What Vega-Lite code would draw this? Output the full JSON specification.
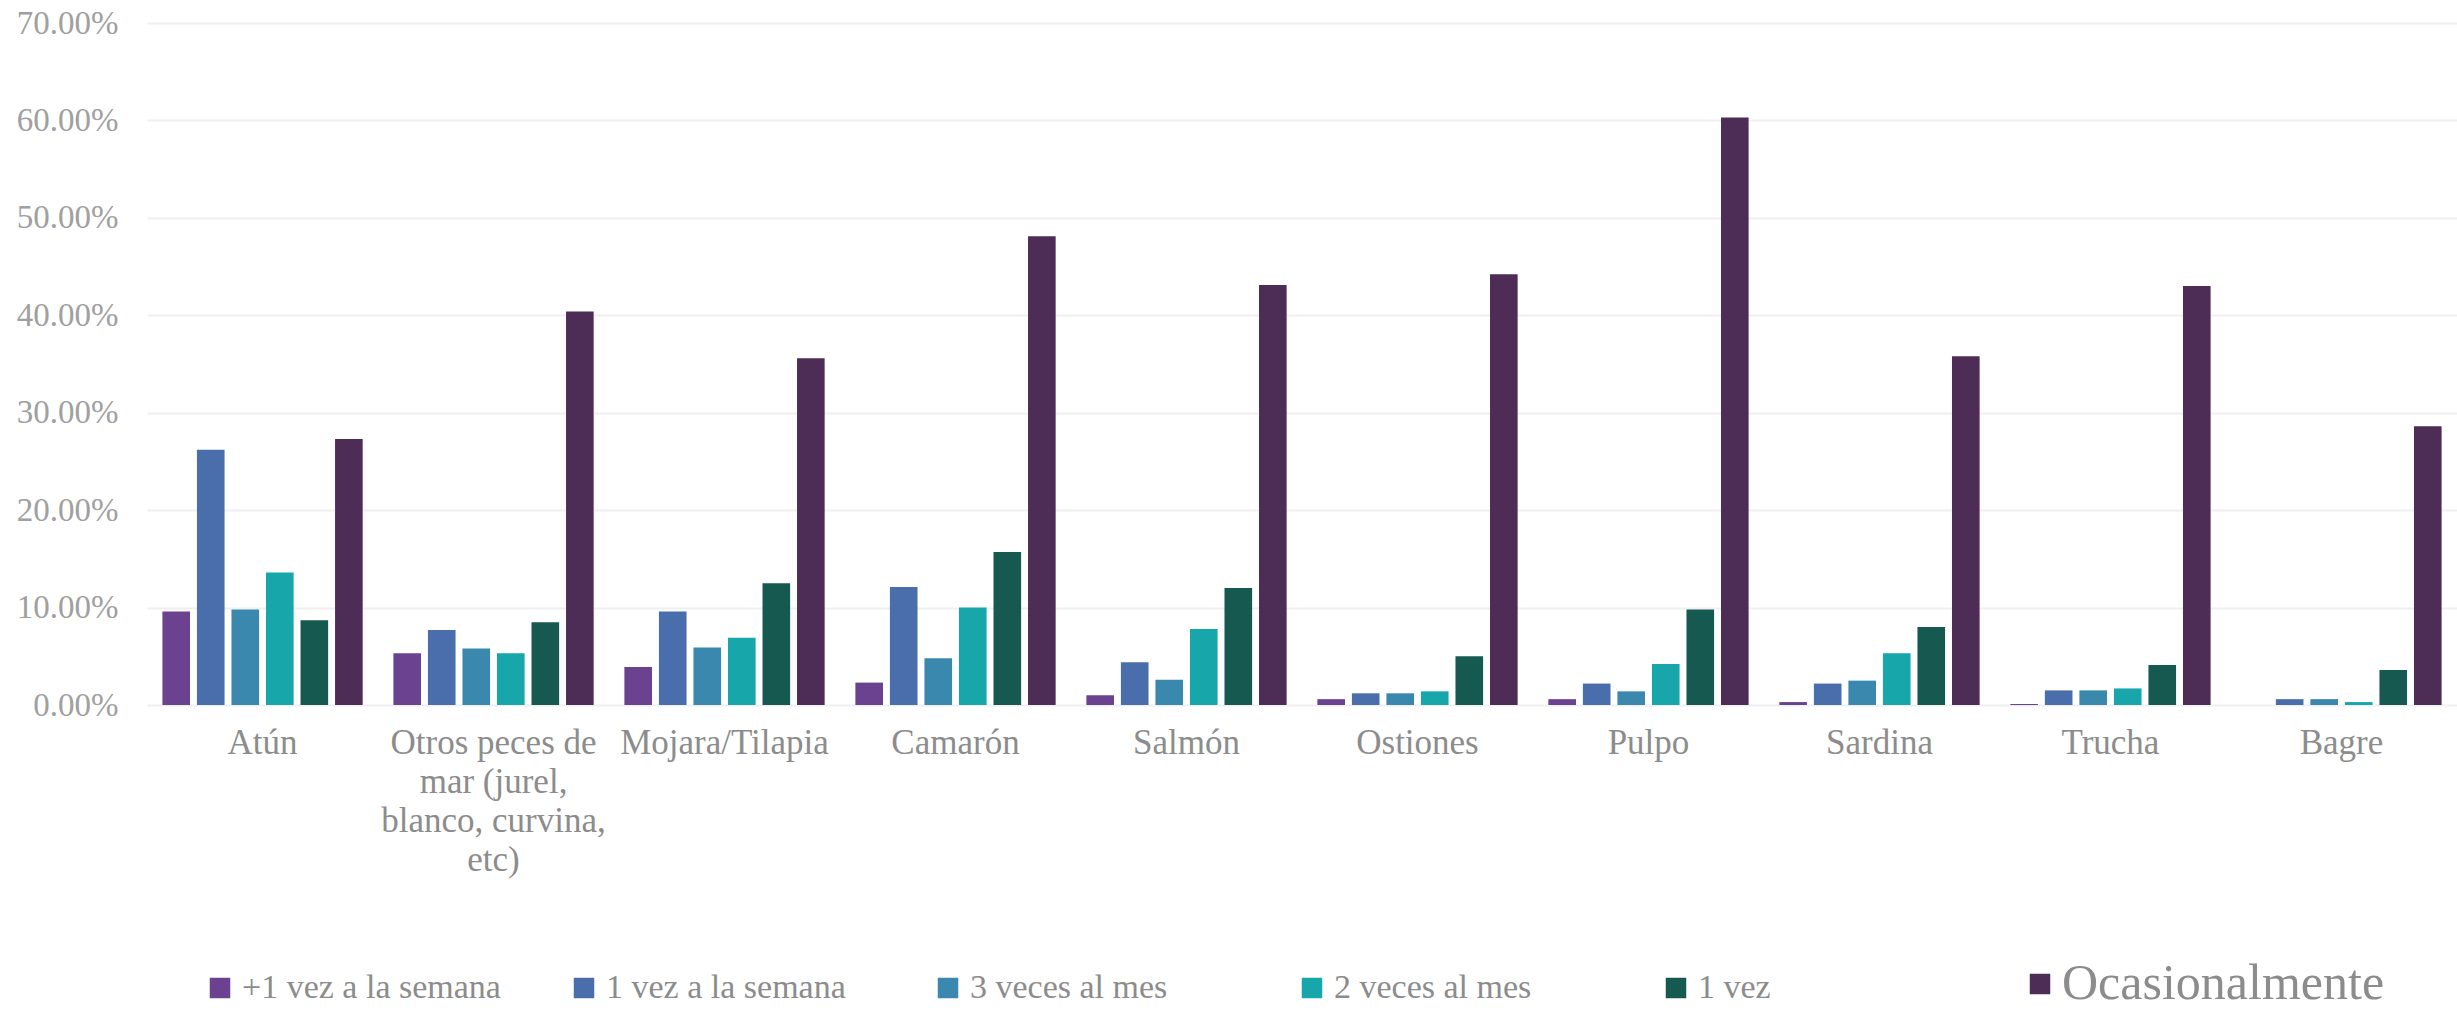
{
  "$schema": "https://vega.github.io/schema/vega-lite/v6.json",
  "width": 2310,
  "height": 682,
  "autosize": {"type": "none"},
  "padding": {"left": 147, "top": 23, "right": 0, "bottom": 305},
  "background": "#ffffff",
  "config": {
    "view": {"stroke": null},
    "font": "Liberation Serif"
  },
  "data": {
    "values": [
      {"pez": "Atún", "frecuencia": "+1 vez a la semana", "valor": 0.096},
      {"pez": "Atún", "frecuencia": "1 vez a la semana", "valor": 0.262},
      {"pez": "Atún", "frecuencia": "3 veces al mes", "valor": 0.098},
      {"pez": "Atún", "frecuencia": "2 veces al mes", "valor": 0.136},
      {"pez": "Atún", "frecuencia": "1 vez", "valor": 0.087},
      {"pez": "Atún", "frecuencia": "Ocasionalmente", "valor": 0.273},
      {"pez": "Otros peces de mar (jurel, blanco, curvina, etc)", "frecuencia": "+1 vez a la semana", "valor": 0.053},
      {"pez": "Otros peces de mar (jurel, blanco, curvina, etc)", "frecuencia": "1 vez a la semana", "valor": 0.077},
      {"pez": "Otros peces de mar (jurel, blanco, curvina, etc)", "frecuencia": "3 veces al mes", "valor": 0.058},
      {"pez": "Otros peces de mar (jurel, blanco, curvina, etc)", "frecuencia": "2 veces al mes", "valor": 0.053},
      {"pez": "Otros peces de mar (jurel, blanco, curvina, etc)", "frecuencia": "1 vez", "valor": 0.085},
      {"pez": "Otros peces de mar (jurel, blanco, curvina, etc)", "frecuencia": "Ocasionalmente", "valor": 0.404},
      {"pez": "Mojara/Tilapia", "frecuencia": "+1 vez a la semana", "valor": 0.039},
      {"pez": "Mojara/Tilapia", "frecuencia": "1 vez a la semana", "valor": 0.096},
      {"pez": "Mojara/Tilapia", "frecuencia": "3 veces al mes", "valor": 0.059},
      {"pez": "Mojara/Tilapia", "frecuencia": "2 veces al mes", "valor": 0.069},
      {"pez": "Mojara/Tilapia", "frecuencia": "1 vez", "valor": 0.125},
      {"pez": "Mojara/Tilapia", "frecuencia": "Ocasionalmente", "valor": 0.356},
      {"pez": "Camarón", "frecuencia": "+1 vez a la semana", "valor": 0.023},
      {"pez": "Camarón", "frecuencia": "1 vez a la semana", "valor": 0.121},
      {"pez": "Camarón", "frecuencia": "3 veces al mes", "valor": 0.048},
      {"pez": "Camarón", "frecuencia": "2 veces al mes", "valor": 0.100},
      {"pez": "Camarón", "frecuencia": "1 vez", "valor": 0.157},
      {"pez": "Camarón", "frecuencia": "Ocasionalmente", "valor": 0.481},
      {"pez": "Salmón", "frecuencia": "+1 vez a la semana", "valor": 0.010},
      {"pez": "Salmón", "frecuencia": "1 vez a la semana", "valor": 0.044},
      {"pez": "Salmón", "frecuencia": "3 veces al mes", "valor": 0.026},
      {"pez": "Salmón", "frecuencia": "2 veces al mes", "valor": 0.078},
      {"pez": "Salmón", "frecuencia": "1 vez", "valor": 0.120},
      {"pez": "Salmón", "frecuencia": "Ocasionalmente", "valor": 0.431},
      {"pez": "Ostiones", "frecuencia": "+1 vez a la semana", "valor": 0.006},
      {"pez": "Ostiones", "frecuencia": "1 vez a la semana", "valor": 0.012},
      {"pez": "Ostiones", "frecuencia": "3 veces al mes", "valor": 0.012},
      {"pez": "Ostiones", "frecuencia": "2 veces al mes", "valor": 0.014},
      {"pez": "Ostiones", "frecuencia": "1 vez", "valor": 0.050},
      {"pez": "Ostiones", "frecuencia": "Ocasionalmente", "valor": 0.442},
      {"pez": "Pulpo", "frecuencia": "+1 vez a la semana", "valor": 0.006},
      {"pez": "Pulpo", "frecuencia": "1 vez a la semana", "valor": 0.022},
      {"pez": "Pulpo", "frecuencia": "3 veces al mes", "valor": 0.014},
      {"pez": "Pulpo", "frecuencia": "2 veces al mes", "valor": 0.042},
      {"pez": "Pulpo", "frecuencia": "1 vez", "valor": 0.098},
      {"pez": "Pulpo", "frecuencia": "Ocasionalmente", "valor": 0.603},
      {"pez": "Sardina", "frecuencia": "+1 vez a la semana", "valor": 0.003},
      {"pez": "Sardina", "frecuencia": "1 vez a la semana", "valor": 0.022},
      {"pez": "Sardina", "frecuencia": "3 veces al mes", "valor": 0.025},
      {"pez": "Sardina", "frecuencia": "2 veces al mes", "valor": 0.053},
      {"pez": "Sardina", "frecuencia": "1 vez", "valor": 0.080},
      {"pez": "Sardina", "frecuencia": "Ocasionalmente", "valor": 0.358},
      {"pez": "Trucha", "frecuencia": "+1 vez a la semana", "valor": 0.001},
      {"pez": "Trucha", "frecuencia": "1 vez a la semana", "valor": 0.015},
      {"pez": "Trucha", "frecuencia": "3 veces al mes", "valor": 0.015},
      {"pez": "Trucha", "frecuencia": "2 veces al mes", "valor": 0.017},
      {"pez": "Trucha", "frecuencia": "1 vez", "valor": 0.041},
      {"pez": "Trucha", "frecuencia": "Ocasionalmente", "valor": 0.430},
      {"pez": "Bagre", "frecuencia": "+1 vez a la semana", "valor": 0.0},
      {"pez": "Bagre", "frecuencia": "1 vez a la semana", "valor": 0.006},
      {"pez": "Bagre", "frecuencia": "3 veces al mes", "valor": 0.006},
      {"pez": "Bagre", "frecuencia": "2 veces al mes", "valor": 0.003},
      {"pez": "Bagre", "frecuencia": "1 vez", "valor": 0.036},
      {"pez": "Bagre", "frecuencia": "Ocasionalmente", "valor": 0.286}
    ]
  },
  "mark": {"type": "bar"},
  "encoding": {
    "x": {
      "field": "pez",
      "type": "nominal",
      "sort": null,
      "scale": {"paddingInner": 0.133, "paddingOuter": 0.0667},
      "axis": {
        "title": null,
        "domain": false,
        "ticks": false,
        "grid": false,
        "labelAngle": 0,
        "labelFont": "Liberation Serif",
        "labelFontSize": 35,
        "labelColor": "#8c8c8c",
        "labelPadding": 20,
        "labelLineHeight": 39,
        "labelLimit": 400,
        "labelExpr": "datum.value == 'Otros peces de mar (jurel, blanco, curvina, etc)' ? ['Otros peces de', 'mar (jurel,', 'blanco, curvina,', 'etc)'] : datum.value"
      }
    },
    "xOffset": {
      "field": "frecuencia",
      "type": "nominal",
      "sort": ["+1 vez a la semana", "1 vez a la semana", "3 veces al mes", "2 veces al mes", "1 vez", "Ocasionalmente"],
      "scale": {"paddingInner": 0.2, "paddingOuter": 0}
    },
    "y": {
      "field": "valor",
      "type": "quantitative",
      "scale": {"domain": [0, 0.7], "nice": false},
      "axis": {
        "title": null,
        "format": ".2%",
        "values": [0, 0.1, 0.2, 0.3, 0.4, 0.5, 0.6, 0.7],
        "domain": false,
        "ticks": false,
        "gridColor": "#efefef",
        "gridWidth": 2,
        "labelFont": "Liberation Serif",
        "labelFontSize": 33,
        "labelColor": "#a0a0a0",
        "labelPadding": 29
      }
    },
    "color": {
      "field": "frecuencia",
      "type": "nominal",
      "sort": ["+1 vez a la semana", "1 vez a la semana", "3 veces al mes", "2 veces al mes", "1 vez", "Ocasionalmente"],
      "scale": {
        "domain": ["+1 vez a la semana", "1 vez a la semana", "3 veces al mes", "2 veces al mes", "1 vez", "Ocasionalmente"],
        "range": ["#6a428f", "#4a6eab", "#3a88ae", "#17a6a9", "#165951", "#4d2c56"]
      },
      "legend": {
        "title": null,
        "orient": "none",
        "direction": "horizontal",
        "legendX": 56,
        "legendY": 944,
        "gridAlign": "all",
        "symbolType": "square",
        "symbolSize": 420,
        "symbolStrokeWidth": 0,
        "symbolOpacity": 1,
        "labelFont": "Liberation Serif",
        "labelFontSize": 34,
        "labelColor": "#8c8c8c",
        "labelOffset": 5,
        "labelLimit": 600,
        "columnPadding": 2,
        "encode": {
          "labels": {
            "update": {
              "fontSize": {"signal": "datum.label === 'Ocasionalmente' ? 50 : 34"}
            }
          }
        }
      }
    }
  }
}
